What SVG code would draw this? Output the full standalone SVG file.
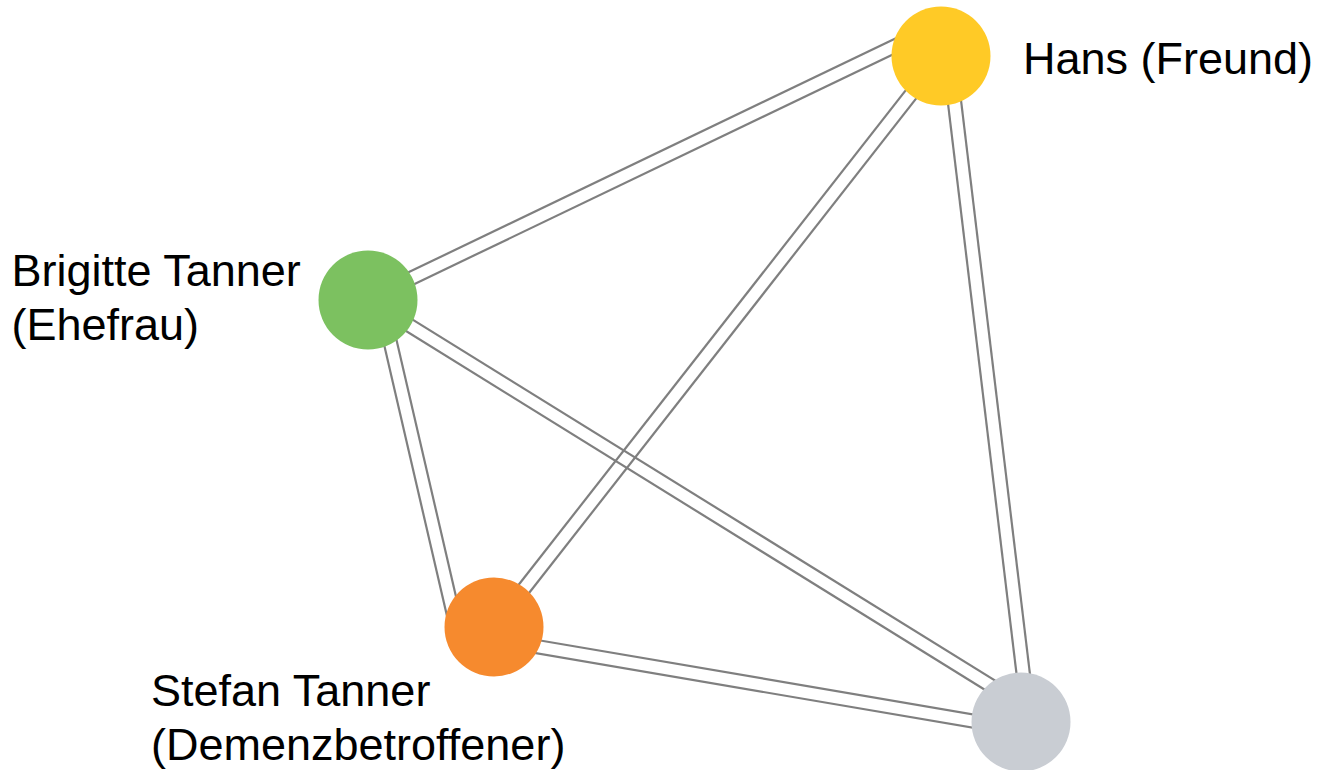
<svg xmlns="http://www.w3.org/2000/svg" width="1319" height="770" viewBox="0 0 1319 770">
<style>
.edge line{stroke:#7f7f7f;stroke-width:2.2;fill:none}
.lbl{font-family:"Liberation Sans",Arial,sans-serif;font-size:45px;fill:#000}
</style>
<rect width="1319" height="770" fill="#fff"/>
<g id="connectors" class="edge">
<g id="e-hans-brigitte"><line x1="943.9" y1="30.0" x2="370.9" y2="304.9"/><line x1="938.1" y1="18.0" x2="365.1" y2="293.1"/></g>
<g id="e-hans-stefan"><line x1="946.2" y1="60.1" x2="499.2" y2="631.1"/><line x1="935.8" y1="51.9" x2="488.8" y2="622.9"/></g>
<g id="e-hans-grey"><line x1="955.6" y1="55.2" x2="1035.6" y2="721.2"/><line x1="942.4" y1="56.8" x2="1022.4" y2="722.8"/></g>
<g id="e-brigitte-stefan"><line x1="386.9" y1="298.5" x2="462.7" y2="625.5"/><line x1="374.1" y1="301.5" x2="449.9" y2="628.5"/></g>
<g id="e-brigitte-grey"><line x1="364.5" y1="305.3" x2="1017.5" y2="710.0"/><line x1="371.5" y1="294.1" x2="1024.5" y2="698.8"/></g>
<g id="e-stefan-grey"><line x1="492.9" y1="645.8" x2="1019.9" y2="735.8"/><line x1="495.1" y1="632.8" x2="1022.1" y2="722.8"/></g>
</g>
<g id="node-hans">
<circle cx="941" cy="56" r="49.5" fill="#FFCA26"/>
<text class="lbl" x="1023" y="73.5">Hans (Freund)</text>
</g>
<g id="node-brigitte">
<circle cx="368" cy="300" r="49.5" fill="#7CC160"/>
<text class="lbl" x="11.5" y="286">Brigitte Tanner</text>
<text class="lbl" x="11.5" y="340">(Ehefrau)</text>
</g>
<g id="node-stefan">
<circle cx="494" cy="627" r="49.5" fill="#F68A2E"/>
<text class="lbl" x="151" y="706">Stefan Tanner</text>
<text class="lbl" x="151" y="760">(Demenzbetroffener)</text>
</g>
<g id="node-grey">
<circle cx="1021" cy="722" r="49.5" fill="#C9CDD3"/>
</g>
</svg>
